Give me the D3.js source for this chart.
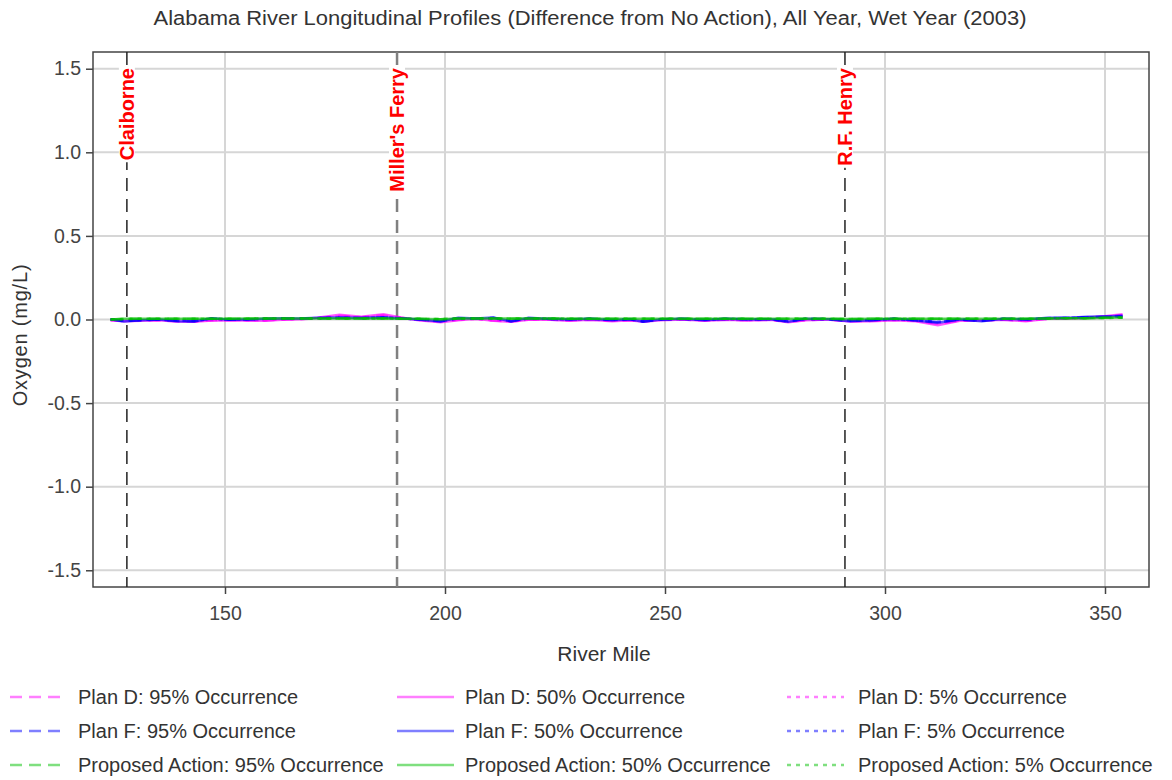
<!DOCTYPE html>
<html>
<head>
<meta charset="utf-8">
<script src="https://cdn.jsdelivr.net/npm/d3@7"></script>
<style>
  body { margin: 0; background: #fff; }
  text { font-family: "Liberation Sans", Arial, sans-serif; }
</style>
</head>
<body>
<script>
var riverMiles = [124, 127, 131, 135, 139, 143, 147, 151, 155, 159, 163, 167, 171, 176, 181, 186, 190, 194, 199, 203,
    207, 211, 215, 219, 223, 228, 233, 238, 242, 245, 249, 254, 259, 264, 269, 274, 278, 282, 287, 292,
    297, 302, 307, 312, 317, 322, 327, 332, 337, 342, 346, 350, 354];

var planD95 = [-0.004, -0.008, -0.006, -0.004, -0.010, -0.012, -0.004, -0.004, -0.004, -0.006, 0.000, 0.002, 0.008, 0.022, 0.014, 0.026, 0.010, -0.002, -0.012, -0.002,
    0.004, -0.006, -0.012, 0.000, 0.000, -0.006, -0.002, -0.008, -0.004, -0.012, -0.002, 0.000, -0.006, -0.002, -0.004, -0.002, -0.012, -0.004, 0.000, -0.010,
    -0.008, -0.002, -0.008, -0.026, -0.006, -0.004, -0.002, -0.008, 0.004, 0.006, 0.010, 0.018, 0.026];
var planD50 = [-0.005, -0.010, -0.008, -0.004, -0.012, -0.014, -0.006, -0.004, -0.006, -0.008, -0.002, 0.002, 0.010, 0.028, 0.016, 0.032, 0.012, -0.004, -0.016, -0.004,
    0.004, -0.008, -0.014, -0.002, 0.000, -0.008, -0.002, -0.010, -0.004, -0.014, -0.004, 0.000, -0.008, -0.002, -0.006, -0.002, -0.016, -0.004, 0.000, -0.012,
    -0.010, -0.004, -0.010, -0.034, -0.008, -0.006, -0.002, -0.010, 0.004, 0.008, 0.012, 0.020, 0.032];
var planD5 = [-0.002, -0.006, -0.004, -0.002, -0.008, -0.010, -0.004, -0.002, -0.004, -0.004, 0.000, 0.004, 0.008, 0.018, 0.012, 0.020, 0.008, -0.002, -0.010, 0.000,
    0.004, -0.004, -0.010, 0.000, 0.002, -0.004, 0.000, -0.006, -0.002, -0.010, -0.002, 0.002, -0.004, 0.000, -0.004, 0.000, -0.010, -0.002, 0.002, -0.008,
    -0.006, -0.002, -0.006, -0.022, -0.004, -0.004, 0.000, -0.006, 0.004, 0.006, 0.010, 0.016, 0.024];

var planF95 = [0.002, -0.010, -0.004, 0.000, -0.008, -0.010, 0.006, -0.002, 0.000, 0.004, 0.006, 0.006, 0.008, 0.010, 0.008, 0.012, 0.006, 0.000, -0.010, 0.008,
    0.006, 0.010, -0.010, 0.008, 0.004, 0.000, 0.004, -0.002, 0.002, -0.012, 0.000, 0.004, -0.002, 0.004, 0.000, 0.002, -0.012, 0.004, 0.002, -0.008,
    -0.004, 0.004, -0.004, -0.016, 0.000, -0.008, 0.004, 0.000, 0.008, 0.010, 0.014, 0.016, 0.020];
var planF50 = [0.002, -0.012, -0.004, 0.000, -0.010, -0.012, 0.008, -0.002, 0.000, 0.004, 0.008, 0.006, 0.010, 0.012, 0.010, 0.014, 0.008, 0.000, -0.012, 0.010,
    0.006, 0.012, -0.012, 0.010, 0.004, 0.000, 0.004, -0.004, 0.002, -0.014, 0.000, 0.004, -0.004, 0.004, 0.000, 0.002, -0.014, 0.004, 0.002, -0.010,
    -0.004, 0.004, -0.006, -0.020, 0.000, -0.010, 0.004, 0.000, 0.010, 0.010, 0.016, 0.018, 0.022];
var planF5 = [0.002, -0.008, -0.002, 0.000, -0.006, -0.008, 0.004, 0.000, 0.002, 0.004, 0.006, 0.006, 0.008, 0.010, 0.008, 0.010, 0.006, 0.002, -0.008, 0.006,
    0.006, 0.008, -0.008, 0.006, 0.004, 0.002, 0.004, -0.002, 0.002, -0.010, 0.002, 0.004, -0.002, 0.004, 0.002, 0.002, -0.010, 0.004, 0.002, -0.006,
    -0.002, 0.004, -0.004, -0.014, 0.002, -0.006, 0.004, 0.002, 0.008, 0.010, 0.012, 0.014, 0.018];

var proposed95 = [0.000, 0.004, 0.004, 0.004, 0.004, 0.004, 0.004, 0.005, 0.005, 0.006, 0.006, 0.006, 0.006, 0.006, 0.006, 0.006, 0.005, 0.004, 0.002, 0.006,
    0.006, 0.006, 0.005, 0.006, 0.006, 0.005, 0.005, 0.004, 0.004, 0.004, 0.004, 0.004, 0.004, 0.004, 0.004, 0.004, 0.004, 0.004, 0.004, 0.003,
    0.004, 0.004, 0.004, 0.004, 0.004, 0.004, 0.004, 0.004, 0.006, 0.008, 0.008, 0.010, 0.012];
var proposed50 = [0.000, 0.004, 0.004, 0.005, 0.004, 0.004, 0.005, 0.005, 0.006, 0.006, 0.006, 0.006, 0.006, 0.006, 0.006, 0.006, 0.005, 0.004, 0.002, 0.006,
    0.006, 0.006, 0.006, 0.006, 0.006, 0.005, 0.005, 0.004, 0.004, 0.004, 0.004, 0.004, 0.004, 0.004, 0.004, 0.004, 0.004, 0.004, 0.004, 0.003,
    0.004, 0.004, 0.004, 0.004, 0.004, 0.004, 0.004, 0.004, 0.006, 0.008, 0.008, 0.010, 0.012];
var proposed5 = [0.000, 0.003, 0.004, 0.004, 0.004, 0.004, 0.005, 0.005, 0.005, 0.006, 0.006, 0.006, 0.006, 0.006, 0.006, 0.006, 0.005, 0.004, 0.003, 0.005,
    0.006, 0.006, 0.005, 0.006, 0.006, 0.005, 0.005, 0.004, 0.004, 0.004, 0.004, 0.004, 0.004, 0.004, 0.004, 0.004, 0.004, 0.004, 0.004, 0.003,
    0.004, 0.004, 0.004, 0.004, 0.004, 0.004, 0.004, 0.004, 0.006, 0.007, 0.008, 0.009, 0.011];

var seriesNames = [
    "Plan D: 95% Occurrence", "Plan D: 50% Occurrence", "Plan D: 5% Occurrence",
    "Plan F: 95% Occurrence", "Plan F: 50% Occurrence", "Plan F: 5% Occurrence",
    "Proposed Action: 95% Occurrence", "Proposed Action: 50% Occurrence", "Proposed Action: 5% Occurrence"
];
var seriesValues = [planD95, planD50, planD5, planF95, planF50, planF5, proposed95, proposed50, proposed5];

var damNames = ["Claiborne", "Miller's Ferry", "R.F. Henry"];
var damMiles = [127.7, 189.1, 290.9];

var xTicks = [150, 200, 250, 300, 350];
var yTicks = [-1.5, -1.0, -0.5, 0.0, 0.5, 1.0, 1.5];

function init() {
    var w = 1172, h = 780;
    var margin = {left: 93, right: 23, top: 52, bottom: 193};

    var planColors = ["#ff00ff", "#0000ff", "#00c000"];
    var dashes = ["12,7", null, "4,5"];

    var svg = d3.select("body").append("svg")
        .attr("width", w)
        .attr("height", h);

    var x = d3.scaleLinear().domain([120, 360]).range([margin.left, w - margin.right]);
    var y = d3.scaleLinear().domain([-1.6, 1.6]).range([h - margin.bottom, margin.top]);

    // title
    svg.append("text")
        .attr("x", 590).attr("y", 25)
        .attr("text-anchor", "middle")
        .attr("textLength", 873)
        .attr("lengthAdjust", "spacingAndGlyphs")
        .style("font-size", "20px")
        .style("fill", "#333")
        .text("Alabama River Longitudinal Profiles (Difference from No Action), All Year, Wet Year (2003)");

    // grid
    svg.append("g").selectAll("line").data(xTicks).enter().append("line")
        .attr("x1", d => x(d)).attr("x2", d => x(d))
        .attr("y1", y.range()[1]).attr("y2", y.range()[0])
        .style("stroke", "#d6d6d6").style("stroke-width", 2);
    svg.append("g").selectAll("line").data(yTicks).enter().append("line")
        .attr("x1", x.range()[0]).attr("x2", x.range()[1])
        .attr("y1", d => y(d)).attr("y2", d => y(d))
        .style("stroke", "#d6d6d6").style("stroke-width", 2);

    // axes
    var xAxis = svg.append("g")
        .attr("transform", "translate(0," + y.range()[0] + ")")
        .call(d3.axisBottom(x).tickValues(xTicks).tickSize(7).tickPadding(12).tickFormat(d3.format("d")));
    var yAxis = svg.append("g")
        .attr("transform", "translate(" + x.range()[0] + ",0)")
        .call(d3.axisLeft(y).tickValues(yTicks).tickSize(7).tickPadding(5).tickFormat(d => d.toFixed(1)));
    [xAxis, yAxis].forEach(function(g) {
        g.select(".domain").remove();
        g.selectAll("line").style("stroke", "#444").style("stroke-width", 1.5);
        g.selectAll("text").style("font-size", "19.5px").style("fill", "#444")
            .style("font-family", "'Liberation Sans', Arial, sans-serif");
    });

    // frame
    svg.append("rect")
        .attr("x", x.range()[0]).attr("y", y.range()[1])
        .attr("width", x.range()[1] - x.range()[0])
        .attr("height", y.range()[0] - y.range()[1])
        .style("fill", "none").style("stroke", "#444").style("stroke-width", 1.5);

    // axis titles
    svg.append("text")
        .attr("x", 604).attr("y", 661)
        .attr("text-anchor", "middle")
        .style("font-size", "21px").style("fill", "#333")
        .text("River Mile");
    svg.append("text")
        .attr("transform", "translate(27,335) rotate(-90)")
        .attr("text-anchor", "middle")
        .style("font-size", "20px").style("fill", "#333")
        .style("letter-spacing", "0.8px")
        .text("Oxygen (mg/L)");

    // dam markers
    var dams = svg.append("g").selectAll("g").data(damNames).enter().append("g");
    dams.append("line")
        .attr("x1", (d, i) => x(damMiles[i])).attr("x2", (d, i) => x(damMiles[i]))
        .attr("y1", y.range()[1]).attr("y2", y.range()[0])
        .style("stroke", (d, i) => i === 1 ? "#808080" : "#222")
        .style("stroke-width", (d, i) => i === 1 ? 2.5 : 1.5)
        .style("stroke-dasharray", "13,8");
    var bg = dams.append("rect").style("fill", "#fff");
    var labels = dams.append("text")
        .attr("transform", (d, i) => "translate(" + (x(damMiles[i]) + 7) + ",68) rotate(-90)")
        .attr("text-anchor", "end")
        .style("font-size", "20px").style("font-weight", "bold")
        .style("fill", "#ff0000")
        .text(d => d);
    labels.each(function(d, i) {
        var len = this.getComputedTextLength();
        d3.select(bg.nodes()[i])
            .attr("x", x(damMiles[i]) - 8).attr("y", 66)
            .attr("width", 16).attr("height", len + 4);
    });

    // series lines
    var line = d3.line()
        .x((d, i) => x(riverMiles[i]))
        .y(d => y(d));
    svg.append("g").selectAll("path").data(seriesValues).enter().append("path")
        .attr("d", d => line(d))
        .style("fill", "none")
        .style("stroke", (d, i) => planColors[Math.floor(i / 3)])
        .style("stroke-opacity", 0.65)
        .style("stroke-width", 2.5)
        .style("stroke-dasharray", (d, i) => dashes[i % 3]);

    // legend
    var colX = [10, 397, 787];
    var textX = [78, 465, 858];
    var rowY = [697, 731, 765];
    var legend = svg.append("g").selectAll("g").data(seriesNames).enter().append("g");
    legend.append("line")
        .attr("x1", (d, i) => colX[i % 3]).attr("x2", (d, i) => colX[i % 3] + 57)
        .attr("y1", (d, i) => rowY[Math.floor(i / 3)]).attr("y2", (d, i) => rowY[Math.floor(i / 3)])
        .style("stroke", (d, i) => planColors[Math.floor(i / 3)])
        .style("stroke-opacity", 0.5)
        .style("stroke-width", 2.5)
        .style("stroke-dasharray", (d, i) => dashes[i % 3]);
    legend.append("text")
        .attr("x", (d, i) => textX[i % 3])
        .attr("y", (d, i) => rowY[Math.floor(i / 3)] + 7)
        .style("font-size", "20px").style("fill", "#333")
        .text(d => d);
}

window.onload = init;
</script>
</body>
</html>
